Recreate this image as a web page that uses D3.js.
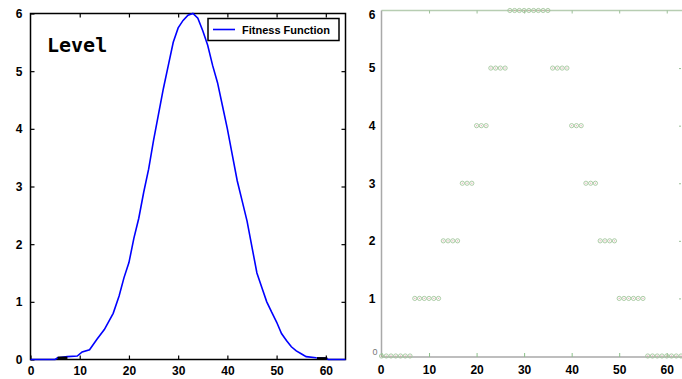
<!DOCTYPE html>
<html>
<head>
<meta charset="utf-8">
<script src="https://cdn.jsdelivr.net/npm/d3@7/dist/d3.min.js"></script>
<style>
  html, body { margin: 0; padding: 0; background: #fff; }
  svg { display: block; }
  .tick text { font-family: "Liberation Sans", Arial, sans-serif; font-weight: bold; font-size: 12px; }
</style>
</head>
<body>
<svg id="chart" width="682" height="379"></svg>
<script>
// Fitness function over the positions 0..64 (left panel)
const fitX = [0, 5, 5.5, 7.5, 9.5, 10.5, 12, 13.5, 15, 16.8, 18, 19, 20, 21, 22, 23, 24, 25, 26, 27, 28, 29, 30, 31, 32, 33, 34, 35, 36, 37, 38, 39, 40, 41, 42, 43, 44, 45, 46, 47, 48, 49, 50, 51, 52, 53, 54, 55, 56, 58, 60, 60.5, 64];
const fitY = [0, 0, 0.03, 0.05, 0.06, 0.13, 0.17, 0.35, 0.52, 0.8, 1.1, 1.42, 1.68, 2.1, 2.45, 2.9, 3.3, 3.8, 4.25, 4.7, 5.1, 5.5, 5.75, 5.88, 5.97, 6.0, 5.92, 5.7, 5.45, 5.1, 4.8, 4.4, 4.0, 3.55, 3.1, 2.75, 2.4, 1.95, 1.5, 1.25, 1.0, 0.82, 0.65, 0.45, 0.33, 0.22, 0.15, 0.1, 0.05, 0.03, 0.02, 0, 0];

// short black segments lying on the baseline
const baseSegX = [[5.5, 7.5], [58.2, 60.3]];
const baseSegY = [0.03, 0.02];

// Level assigned to each position 0..63 (right panel)
const levelX = d3.range(0, 64);
const levelY = [0,0,0,0,0,0,0, 1,1,1,1,1,1, 2,2,2,2, 3,3,3, 4,4,4, 5,5,5,5, 6,6,6,6,6,6,6,6,6, 5,5,5,5, 4,4,4, 3,3,3, 2,2,2,2, 1,1,1,1,1,1, 0,0,0,0,0,0,0,0];

const xTicks = [0, 10, 20, 30, 40, 50, 60];
const yTicks = [0, 1, 2, 3, 4, 5, 6];
const legendLabel = "Fitness Function";
const panelTitle = "Level";

const svg = d3.select("#chart");

// ---------- left panel ----------
const xL = d3.scaleLinear().domain([0, 64]).range([30.5, 345.5]);
const yL = d3.scaleLinear().domain([0, 6]).range([359.5, 13.5]);
const L = svg.append("g");

L.append("rect").attr("x", xL(0)).attr("y", yL(6))
  .attr("width", xL(64) - xL(0)).attr("height", yL(0) - yL(6))
  .attr("fill", "#fff").attr("stroke", "#000").attr("stroke-width", 1.5);

const axL = (gen, tr) => {
  const g = L.append("g").attr("transform", tr).call(gen);
  g.select(".domain").remove();
  g.selectAll(".tick line").attr("stroke", "#000").attr("stroke-width", 1.2);
  return g;
};
axL(d3.axisBottom(xL).tickValues(xTicks).tickSize(-4).tickPadding(7).tickFormat(d3.format("d")), `translate(0,${yL(0)})`);
axL(d3.axisTop(xL).tickValues(xTicks.slice(1)).tickSize(-4).tickFormat(""), `translate(0,${yL(6)})`);
axL(d3.axisLeft(yL).tickValues(yTicks).tickSize(-4).tickPadding(8).tickFormat(d3.format("d")), `translate(${xL(0)},0)`);
axL(d3.axisRight(yL).tickValues(yTicks.slice(1, 6)).tickSize(-4).tickFormat(""), `translate(${xL(64)},0)`);

const line = d3.line().x(d => xL(d[0])).y(d => yL(d[1]));
L.append("path").datum(fitX.map((x, i) => [x, fitY[i]]))
  .attr("d", line).attr("fill", "none").attr("stroke", "#0000ff").attr("stroke-width", 1.6);

baseSegX.forEach((s, i) => {
  L.append("path").datum(s.map(x => [x, baseSegY[i]]))
    .attr("d", line).attr("stroke", "#000").attr("stroke-width", 2.4);
});

L.append("text").attr("x", 47).attr("y", 52).text(panelTitle)
  .attr("font-family", "DejaVu Sans Mono, monospace").attr("font-weight", "bold")
  .attr("font-size", 20).attr("fill", "#000");

const lg = L.append("g");
lg.append("rect").attr("x", 208).attr("y", 18.5).attr("width", 131).attr("height", 22)
  .attr("fill", "#fff").attr("stroke", "#000").attr("stroke-width", 1.5);
lg.append("line").attr("x1", 213).attr("x2", 235).attr("y1", 29.5).attr("y2", 29.5)
  .attr("stroke", "#0000ff").attr("stroke-width", 1.6);
lg.append("text").attr("x", 242).attr("y", 33.5).text(legendLabel)
  .attr("font-family", "Liberation Sans, Arial, sans-serif").attr("font-weight", "bold")
  .attr("font-size", 10).attr("textLength", 88).attr("lengthAdjust", "spacingAndGlyphs");

// ---------- right panel ----------
const xR = d3.scaleLinear().domain([0, 63]).range([381.5, 681]);
const yR = d3.scaleLinear().domain([0, 6]).range([356, 10.5]);
const R = svg.append("g");

R.append("line").attr("x1", xR(0)).attr("x2", 682).attr("y1", yR(6)).attr("y2", yR(6))
  .attr("stroke", "#b7cdb2").attr("stroke-width", 1.5);
R.append("line").attr("x1", xR(0)).attr("x2", xR(0)).attr("y1", yR(6)).attr("y2", yR(0) + 1)
  .attr("stroke", "#a9a9a9").attr("stroke-width", 1.5);
R.append("line").attr("x1", xR(0)).attr("x2", 682).attr("y1", yR(0) + 1).attr("y2", yR(0) + 1)
  .attr("stroke", "#a9a9a9").attr("stroke-width", 1.3);

const gxb = R.append("g").attr("transform", `translate(0,${yR(0) + 1})`)
  .call(d3.axisBottom(xR).tickValues(xTicks).tickSize(-4).tickPadding(8).tickFormat(d3.format("d")));
gxb.select(".domain").remove();
gxb.selectAll(".tick line").attr("stroke", "#8cc08a").attr("stroke-width", 1);
gxb.selectAll(".tick").filter(d => d === 0).select("text").attr("dx", -1);

const gxt = R.append("g").attr("transform", `translate(0,${yR(6)})`)
  .call(d3.axisTop(xR).tickValues(xTicks.slice(1)).tickSize(-3).tickFormat(""));
gxt.select(".domain").remove();
gxt.selectAll(".tick line").attr("stroke", "#9cbf98");

const gyl = R.append("g").attr("transform", `translate(${xR(0)},0)`)
  .call(d3.axisLeft(yR).tickValues(yTicks.slice(1)).tickSize(0).tickPadding(6).tickFormat(d3.format("d")));
gyl.select(".domain").remove();
// the top label is pushed inside the frame
gyl.selectAll(".tick").filter(d => d === 6).select("text").attr("dy", "0.7em");
// the zero label sits small against the corner
R.append("text").attr("x", 375).attr("y", 355).text(yTicks[0])
  .attr("text-anchor", "middle").attr("font-family", "Liberation Sans, Arial, sans-serif")
  .attr("font-size", 9).attr("fill", "#777");

const gyr = R.append("g").attr("transform", `translate(681,0)`)
  .call(d3.axisRight(yR).tickValues(yTicks.slice(1, 6)).tickSize(-2).tickFormat(""));
gyr.select(".domain").remove();
gyr.selectAll(".tick line").attr("stroke", "#9cbf98");

svg.append("defs").append("filter").attr("id", "soft")
  .append("feGaussianBlur").attr("stdDeviation", 0.4);

const pts = R.append("g").attr("filter", "url(#soft)");
pts.selectAll("circle").data(levelX).join("circle")
  .attr("cx", d => xR(d)).attr("cy", (d, i) => yR(levelY[i]))
  .attr("r", 2.1).attr("fill", "none").attr("stroke", "#a3c69c").attr("stroke-width", 0.9);
pts.selectAll("rect").data(levelX).join("rect")
  .attr("x", d => xR(d) - 0.6).attr("y", (d, i) => yR(levelY[i]) - 0.6)
  .attr("width", 1.2).attr("height", 1.2).attr("fill", "#d49a9a").attr("opacity", 0.7);
</script>
</body>
</html>
